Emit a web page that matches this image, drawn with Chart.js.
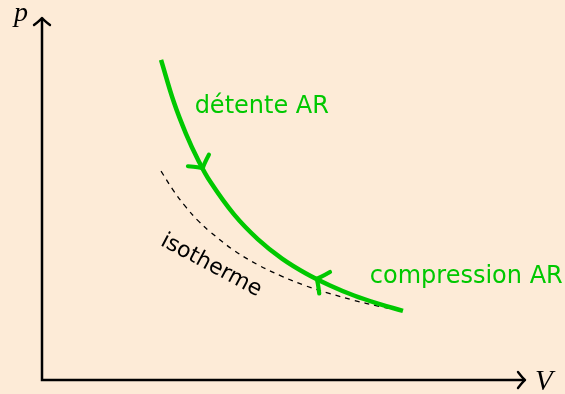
<!DOCTYPE html>
<html>
<head>
<meta charset="utf-8">
<script src="https://cdn.jsdelivr.net/npm/chart.js@4/dist/chart.umd.min.js"></script>
<style>
  html, body { margin: 0; padding: 0; background: #fdebd7; }
  #wrap { width: 565px; height: 394px; }
</style>
</head>
<body>
<div id="wrap"><canvas id="pv" width="565" height="394"></canvas></div>
<script>
// Volume samples (arbitrary units) shared by both curves
const volume = [2.48, 2.75, 3.0, 3.25, 3.5, 4.0, 4.5, 5.0, 5.5, 6.0, 6.5, 7.0, 7.52];
// Reversible adiabatic (pressure, arbitrary units)
const pAdiabatique = [6.67, 5.78, 5.13, 4.59, 4.14, 3.45, 2.93, 2.53, 2.22, 1.97, 1.76, 1.59, 1.44];
// Isotherm through the end state
const pIsotherme = [4.35, 3.93, 3.60, 3.32, 3.09, 2.70, 2.40, 2.16, 1.96, 1.80, 1.66, 1.54, 1.44];
// Direction arrows on the adiabatic: volume position and direction (+1 expanding, -1 compressing)
const arrowVolume = [3.35, 5.72];
const arrowSens = [1, -1];
// Annotations
const labels = ['détente AR', 'compression AR', 'isotherme'];
const axisTitles = ['p', 'V'];

const GREEN = '#00c800';
const BG = '#fdebd7';

function toPoints(xs, ys) { return xs.map((x, i) => ({ x: x, y: ys[i] })); }

function interp(xs, ys, x) {
  for (let i = 0; i < xs.length - 1; i++) {
    if (x >= xs[i] && x <= xs[i + 1]) {
      const t = (x - xs[i]) / (xs[i + 1] - xs[i]);
      return ys[i] + t * (ys[i + 1] - ys[i]);
    }
  }
  return ys[ys.length - 1];
}

function drawArrowHead(ctx, x, y, ang, len, half, color, lw) {
  ctx.save();
  ctx.translate(x, y);
  ctx.rotate(ang);
  ctx.strokeStyle = color;
  ctx.lineWidth = lw;
  ctx.lineCap = 'round';
  ctx.lineJoin = 'round';
  ctx.beginPath();
  ctx.moveTo(-len, -half);
  ctx.quadraticCurveTo(-len * 0.25, -half * 0.15, 0, 0);
  ctx.quadraticCurveTo(-len * 0.25, half * 0.15, -len, half);
  ctx.stroke();
  ctx.restore();
}

const decorPlugin = {
  id: 'decor',
  beforeDraw(chart) {
    const ctx = chart.ctx;
    ctx.save();
    ctx.fillStyle = BG;
    ctx.fillRect(0, 0, chart.width, chart.height);
    ctx.restore();
  },
  afterDatasetsDraw(chart) {
    const ctx = chart.ctx;
    const xs = chart.scales.x, ys = chart.scales.y;
    const x0 = xs.getPixelForValue(0), y0 = ys.getPixelForValue(0);

    // Axes with arrow tips
    ctx.save();
    ctx.strokeStyle = '#000';
    ctx.lineWidth = 2.5;
    ctx.lineCap = 'butt';
    ctx.beginPath();
    ctx.moveTo(x0 - 1.25, y0);
    ctx.lineTo(chart.chartArea.right + 2, y0);
    ctx.moveTo(x0, y0 + 1.25);
    ctx.lineTo(x0, chart.chartArea.top - 1);
    ctx.stroke();
    ctx.restore();
    drawArrowHead(ctx, chart.chartArea.right + 3, y0, 0, 7, 8, '#000', 2.4);
    drawArrowHead(ctx, x0, chart.chartArea.top - 2, -Math.PI / 2, 7, 8, '#000', 2.4);

    // Direction arrows along the adiabatic
    arrowVolume.forEach((v, i) => {
      const p = interp(volume, pAdiabatique, v);
      const dv = 0.05 * arrowSens[i];
      const p2 = interp(volume, pAdiabatique, v + dv);
      const px = xs.getPixelForValue(v), py = ys.getPixelForValue(p);
      const qx = xs.getPixelForValue(v + dv), qy = ys.getPixelForValue(p2);
      const ang = Math.atan2(qy - py, qx - px);
      drawArrowHead(ctx, px, py, ang, 9, 12, GREEN, 4.2);
    });

    // Text annotations
    ctx.save();
    ctx.textBaseline = 'alphabetic';
    ctx.textAlign = 'left';
    ctx.fillStyle = GREEN;
    ctx.font = '24px "DejaVu Sans"';
    ctx.fillText(labels[0], xs.getPixelForValue(3.18), ys.getPixelForValue(5.56));
    ctx.fillText(labels[1], xs.getPixelForValue(6.83), ys.getPixelForValue(2.03));

    ctx.fillStyle = '#000';
    ctx.font = '22px "DejaVu Sans"';
    ctx.save();
    ctx.translate(xs.getPixelForValue(2.45), ys.getPixelForValue(2.82));
    ctx.rotate(28 * Math.PI / 180);
    ctx.fillText(labels[2], 0, 0);
    ctx.restore();

    ctx.font = 'italic 28px "Liberation Serif"';
    ctx.fillText(axisTitles[0], 14, 21);
    ctx.font = 'italic 29px "Liberation Serif"';
    ctx.fillText(axisTitles[1], 535, 390);
    ctx.restore();
  }
};

new Chart(document.getElementById('pv'), {
  type: 'scatter',
  data: {
    datasets: [
      {
        label: 'adiabatique',
        data: toPoints(volume, pAdiabatique),
        showLine: true,
        borderColor: GREEN,
        borderWidth: 4.5,
        pointRadius: 0,
        tension: 0.4,
        borderCapStyle: 'butt'
      },
      {
        label: 'isotherme',
        data: toPoints(volume, pIsotherme),
        showLine: true,
        borderColor: '#000',
        borderWidth: 1.3,
        borderDash: [5, 5],
        pointRadius: 0,
        tension: 0.4
      }
    ]
  },
  options: {
    responsive: false,
    animation: false,
    layout: { padding: { left: 42, right: 43, top: 20, bottom: 14 } },
    plugins: { legend: { display: false }, tooltip: { enabled: false } },
    scales: {
      x: { type: 'linear', min: 0, max: 10, display: false },
      y: { type: 'linear', min: 0, max: 7.5, display: false }
    }
  },
  plugins: [decorPlugin]
});
</script>
</body>
</html>
